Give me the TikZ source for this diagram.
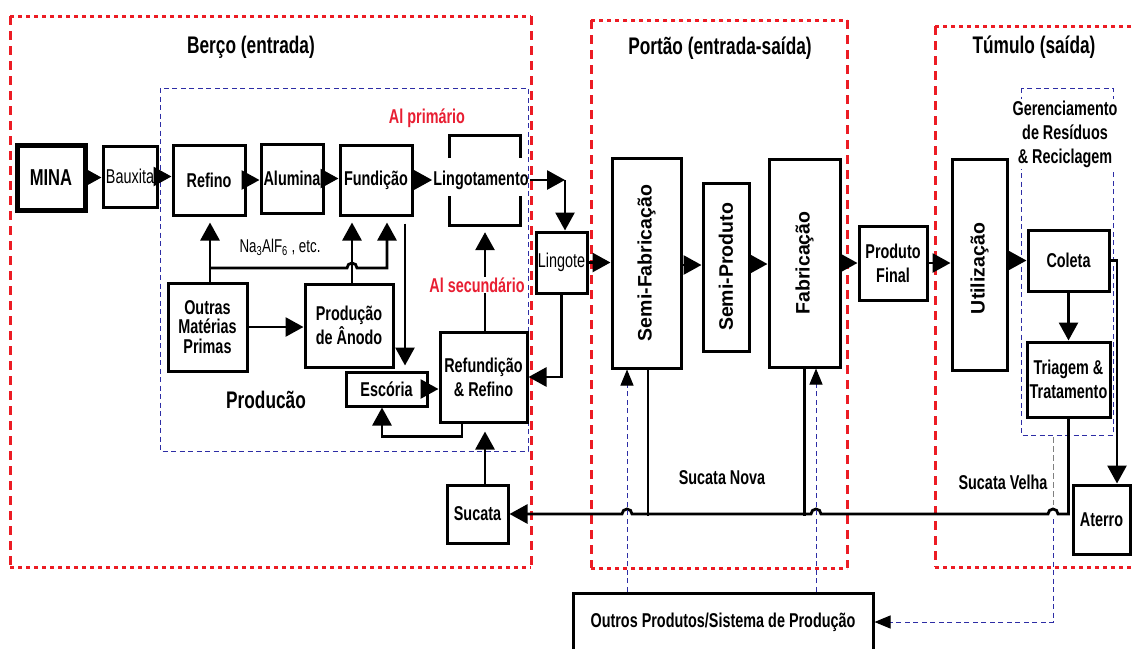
\documentclass[tikz,border=0pt]{standalone}
\usepackage{fontspec}
\setmainfont{Liberation Sans}[FakeStretch=0.72]
\newfontfamily\rotfont{Liberation Sans}
\usetikzlibrary{arrows.meta}
\definecolor{dred}{RGB}{236,28,36}
\definecolor{dblue}{RGB}{45,45,165}
\definecolor{lred}{RGB}{232,30,50}
\begin{document}
\begin{tikzpicture}[x=1pt,y=-1pt,
  box/.style={draw, line width=3pt, inner sep=0pt, align=center, font=\fontsize{20}{24}\selectfont\bfseries},
  conn/.style={line width=2.8pt, -{Triangle[length=18pt,width=19pt]}},
  plain/.style={line width=2.8pt},
  redh/.style={dred, line width=3pt, dash pattern=on 4pt off 4pt},
  redv/.style={dred, line width=3pt, dash pattern=on 9pt off 6pt},
  bdash/.style={dblue, line width=1pt, dash pattern=on 5pt off 3.5pt},
  bconn/.style={bdash, -{Triangle[length=16pt,width=13pt,color=black]}},
  lbl/.style={font=\fontsize{20}{24}\selectfont\bfseries, align=center, inner sep=1pt},
  hdr/.style={font=\fontsize{24}{28}\selectfont\bfseries},
  rlbl/.style={lbl, text=lred, fill=white},
  rot/.style={rotate=90, inner sep=0pt, font=\rotfont\fontsize{19.5}{23}\selectfont\bfseries}
]
\useasboundingbox[fill=white] (0,0) rectangle (1132,648);

% red stage frames
\draw[redh] (10,16) -- (531,16) (10,567) -- (531,567);
\draw[redv] (10,16) -- (10,567) (531,16) -- (531,567);
\draw[redh] (591,20) -- (847,20) (591,568) -- (847,568);
\draw[redv] (591,20) -- (591,568) (847,20) -- (847,568);
\draw[redh] (935,26) -- (1140,26) (935,567) -- (1140,567);
\draw[redv] (935,26) -- (935,567);

% blue dashed frames
\draw[bdash] (160,88) rectangle (528,451);
\draw[bdash] (1021,88) rectangle (1113,435);

% headers
\node[hdr] (hberco) at (251,47) {Berço (entrada)};
\node[hdr] (hportao) at (720,48) {Portão (entrada-saída)};
\node[hdr] (htumulo) at (1034,47) {Túmulo (saída)};

% nodes
\node[box, line width=5pt, minimum width=68pt, minimum height=65pt, font=\fontsize{23}{27}\selectfont\bfseries] (mina) at (51,177.5) {MINA};
\node[box, minimum width=54pt, minimum height=61pt, font=\fontsize{20}{24}\selectfont] (bauxita) at (130,176.5) {Bauxita};
\node[box, minimum width=72pt, minimum height=70pt] (refino) at (209,180) {Refino};
\node[box, minimum width=62pt, minimum height=69pt] (alumina) at (292,178.5) {Alumina};
\node[box, minimum width=72pt, minimum height=70pt] (fundicao) at (376,180) {Fundição};
\node[minimum width=71pt, minimum height=90pt, inner sep=0pt] (lingbox) at (484.5,180) {};
\draw[line width=3pt] (449,158) -- (449,135) -- (520,135) -- (520,158);
\draw[line width=3pt] (449,196) -- (449,225) -- (520,225) -- (520,196);
\node[lbl] (lingot) at (481,180) {Lingotamento};
\node[box, minimum width=51pt, minimum height=61pt, font=\fontsize{20}{24}\selectfont] (lingote) at (561.5,262.5) {Lingote};
\node[box, minimum width=87pt, minimum height=90pt] (refund) at (483.5,377) {Refundição\\\& Refino};
\node[box, minimum width=81pt, minimum height=34pt] (escoria) at (386.5,389) {Escória};
\node[box, minimum width=79pt, minimum height=88pt, font=\fontsize{20}{19.5}\selectfont\bfseries] (outras) at (207.5,327) {Outras\\Matérias\\Primas};
\node[box, minimum width=88pt, minimum height=83pt] (anodo) at (349,325.5) {Produção\\de Ânodo};
\node[box, minimum width=61pt, minimum height=58pt] (sucata) at (477.5,514) {Sucata};
\node[box, minimum width=69pt, minimum height=210pt] (semifab) at (646.5,263) {};
\node[rot] (tsemifab) at (semifab) {Semi-Fabricação};
\node[box, minimum width=46pt, minimum height=168pt] (semiprod) at (726,267) {};
\node[rot] (tsemiprod) at (semiprod) {Semi-Produto};
\node[box, minimum width=71pt, minimum height=208pt] (fab) at (804.5,263) {};
\node[rot] (tfab) at (fab) {Fabricação};
\node[box, minimum width=68pt, minimum height=74pt] (prodfinal) at (893,263) {Produto\\Final};
\node[box, minimum width=55pt, minimum height=211pt] (util) at (979.5,264.5) {};
\node[rot] (tutil) at ([yshift=-4pt]util.center) {Utilização};
\node[box, minimum width=81pt, minimum height=61pt] (coleta) at (1068.5,260.5) {Coleta};
\node[box, minimum width=83pt, minimum height=75pt] (triagem) at (1068.5,379.5) {Triagem \&\\Tratamento};
\node[box, minimum width=57pt, minimum height=69pt] (aterro) at (1101.5,519.5) {Aterro};
\node[box, minimum width=300pt, minimum height=58pt] (outros) at (723,622) {Outros Produtos/Sistema de Produção};

% labels
\node[lbl, fill=white, inner sep=2pt] (tger) at (1065,134) {Gerenciamento\\de Resíduos\\\& Reciclagem};
\node[lbl, font=\fontsize{24}{28}\selectfont\bfseries] (tproducao) at (266,400) {Producão};
\node[lbl, text=lred] (alprim) at (427,118) {Al primário};
\node[lbl, font=\fontsize{18.5}{22}\selectfont] (na) at (280,247) {Na\textsubscript{3}AlF\textsubscript{6} , etc.};
\node[lbl] (snova) at (722,478) {Sucata Nova};
\node[lbl] (svelha) at (1003,482) {Sucata Velha};

% main chain
\draw[conn] (mina.east) -- (mina.east -| bauxita.west);
\draw[conn] (bauxita.east) -- (bauxita.east -| refino.west);
\draw[conn] (refino.east) -- (refino.east -| alumina.west);
\draw[conn] (alumina.east) -- (alumina.east -| fundicao.west);
\draw[conn] (fundicao.east) -- (fundicao.east -| lingot.west);
\coordinate (lc) at (565,180);
\draw[conn] (lingot.east) -- (lc);
\draw[conn] (lc) -- (lc |- lingote.north);
\draw[conn] (lingote.east) -- (lingote.east -| semifab.west);
\draw[conn] (lingote.south) |- (refund.east);
\draw[conn, shorten >=7pt] ([xshift=1.5pt]refund.north) -- ([xshift=1.5pt]refund.north |- lingbox.south);
\node[rlbl] (alsec) at (477,285) {Al secundário};
\draw[conn] (escoria.east) -- (escoria.east -| refund.west);
\draw[conn] ([xshift=-21.5pt]refund.south) -- ++(0,13) -| ([xshift=-4.5pt]escoria.south);
\draw[conn, shorten <=7pt, shorten >=5pt] ([xshift=29pt]fundicao.south) -- ([xshift=29pt]fundicao.south |- escoria.north);
\draw[conn] (outras.east) -- (outras.east -| anodo.west);
\draw[conn, shorten >=6pt] ([xshift=2.5pt]outras.north) -- ([xshift=2.5pt]outras.north |- refino.south);
\draw[conn, shorten >=6pt] ([xshift=2.5pt]outras.north |- 0,268) -- (347,268) arc[start angle=180, end angle=0, radius=5pt] -| ([xshift=11pt]fundicao.south);
\draw[conn, shorten >=6pt] ([xshift=3pt]anodo.north) -- ([xshift=3pt]anodo.north |- fundicao.south);
\draw[conn, shorten >=8pt] ([xshift=7.5pt]sucata.north) -- ([xshift=7.5pt]sucata.north |- refund.south);

\draw[conn] (semifab.east |- 0,265) -- (semiprod.west |- 0,265);
\draw[conn] (semiprod.east |- 0,264) -- (fab.west |- 0,264);
\draw[conn] (fab.east |- 0,263) -- (prodfinal.west |- 0,263);
\draw[conn] (prodfinal.east) -- (prodfinal.east -| util.west);
\draw[conn] (util.east |- coleta.west) -- (coleta.west);
\draw[conn] (coleta.south) -- (triagem.north);
\draw[conn] (coleta.east) -| ([xshift=15.5pt]aterro.north);

% scrap return line
\draw[plain] ([xshift=1.5pt]semifab.south) -- ++(0,146);
\draw[plain] (fab.south) -- ++(0,147);
\draw[conn] (triagem.south) |- (1058,514) arc[start angle=0, end angle=180, radius=5pt] -- (821,514) arc[start angle=0, end angle=180, radius=5pt] -- (632,514) arc[start angle=0, end angle=180, radius=5pt] -- (sucata.east);

% other products system (dashed)
\draw[bconn] ([xshift=-19.5pt]semifab.south |- outros.north) -- ([xshift=-19.5pt]semifab.south);
\draw[bconn] ([xshift=11.5pt]fab.south |- outros.north) -- ([xshift=11.5pt]fab.south);
\coordinate (vtop) at (1053,437);
\coordinate (vmid) at (1053,505);
\coordinate (vlow) at (1053,519);
\draw[gray, line width=1pt, dash pattern=on 6pt off 3pt] (vtop) -- (vmid);
\draw[bconn] (vlow) |- (outros.east);
\end{tikzpicture}
\end{document}
